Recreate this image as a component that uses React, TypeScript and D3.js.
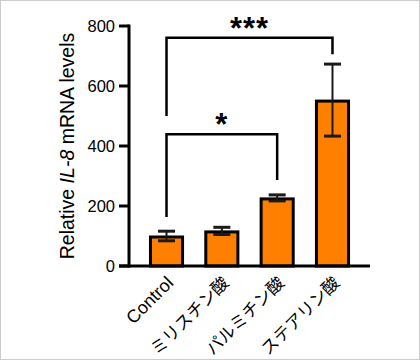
import React from "react";
import * as d3 from "d3";

const categories = ["Control", "ミリスチン酸", "パルミチン酸", "ステアリン酸"];
const means = [100, 117, 227, 553];
const errors = [16, 12, 10, 120];
const yTicks = [0, 200, 400, 600, 800];
// significance brackets: [fromIdx, toIdx, topValue, leftEndValue, rightEndValue, label]
const bracketFrom = [0, 0];
const bracketTo = [2, 3];
const bracketTop = [439, 761];
const bracketLeftEnd = [163, 500];
const bracketRightEnd = [287, 706];
const bracketLabels = ["*", "***"];

const W = 420;
const H = 360;
const LATIN = "'Liberation Sans', Arial, Helvetica, sans-serif";
const CJK = "'Noto Sans CJK JP', 'Liberation Sans', sans-serif";

export default function App() {
  const x = d3
    .scaleBand<string>()
    .domain(categories)
    .range([129, 370])
    .paddingInner(0.42)
    .paddingOuter(0.388);
  const y = d3.scaleLinear().domain([0, 800]).range([266, 26]);
  const cx = (i: number) => (x(categories[i]) as number) + x.bandwidth() / 2;
  const capW = 17;

  return (
    <svg
      width={W}
      height={H}
      style={{ position: "fixed", left: 0, top: 0, background: "#fff" }}
    >
      <rect x={0.5} y={0.5} width={W - 1} height={H - 1} fill="#fff" stroke="#cccccc" strokeWidth={1} />

      {/* bars */}
      {categories.map((c, i) => (
        <rect
          key={c}
          x={x(c)}
          y={y(means[i]) + 1}
          width={x.bandwidth()}
          height={y(0) - y(means[i]) - 1}
          fill="#FF8000"
          stroke="#000"
          strokeWidth={3}
        />
      ))}

      {/* error bars */}
      {categories.map((c, i) => {
        const xc = cx(i);
        const y1 = y(means[i] + errors[i]);
        const y2 = y(means[i] - errors[i]);
        return (
          <g key={"e" + c} stroke="#1a1a1a">
            <line x1={xc} x2={xc} y1={y1} y2={y2} strokeWidth={2} />
            <line x1={xc - capW / 2} x2={xc + capW / 2} y1={y1} y2={y1} strokeWidth={3} />
            <line x1={xc - capW / 2} x2={xc + capW / 2} y1={y2} y2={y2} strokeWidth={3} />
          </g>
        );
      })}

      {/* axes */}
      <line x1={129} x2={129} y1={y(800) - 1.5} y2={y(0) + 1.5} stroke="#000" strokeWidth={3} />
      <line x1={119} x2={370} y1={y(0)} y2={y(0)} stroke="#000" strokeWidth={3} />
      {yTicks.map((t) => (
        <g key={"t" + t}>
          <line x1={119} x2={129} y1={y(t)} y2={y(t)} stroke="#000" strokeWidth={3} />
          <text
            x={115}
            y={y(t)}
            dy="0.36em"
            textAnchor="end"
            fontFamily={LATIN}
            fontSize={16.5}
            fill="#000"
          >
            {t}
          </text>
        </g>
      ))}

      {/* y label */}
      <text
        transform={`translate(74, ${(y(0) + y(800)) / 2}) rotate(-90)`}
        textAnchor="middle"
        fontFamily={LATIN}
        fontSize={19.5}
        fill="#000"
      >
        Relative <tspan fontStyle="italic">IL-8</tspan> mRNA levels
      </text>

      {/* x labels */}
      {categories.map((c, i) => (
        <text
          key={"l" + c}
          transform={`translate(${cx(i) + 8}, 284) rotate(-45)`}
          textAnchor="end"
          fontFamily={i === 0 ? LATIN : CJK}
          fontSize={i === 0 ? 18 : 17}
          fill="#000"
        >
          {c}
        </text>
      ))}

      {/* significance brackets */}
      {bracketLabels.map((lab, k) => {
        const x1 = cx(bracketFrom[k]);
        const x2 = cx(bracketTo[k]);
        const yt = y(bracketTop[k]);
        return (
          <g key={"b" + k}>
            <path
              d={`M${x1},${y(bracketLeftEnd[k])}V${yt}H${x2}V${y(bracketRightEnd[k])}`}
              fill="none"
              stroke="#000"
              strokeWidth={2.5}
            />
            <text
              x={(x1 + x2) / 2}
              y={yt + 1}
              textAnchor="middle"
              fontFamily={LATIN}
              fontWeight="bold"
              fontSize={31}
              letterSpacing={1}
              fill="#000"
            >
              {lab}
            </text>
          </g>
        );
      })}
    </svg>
  );
}
